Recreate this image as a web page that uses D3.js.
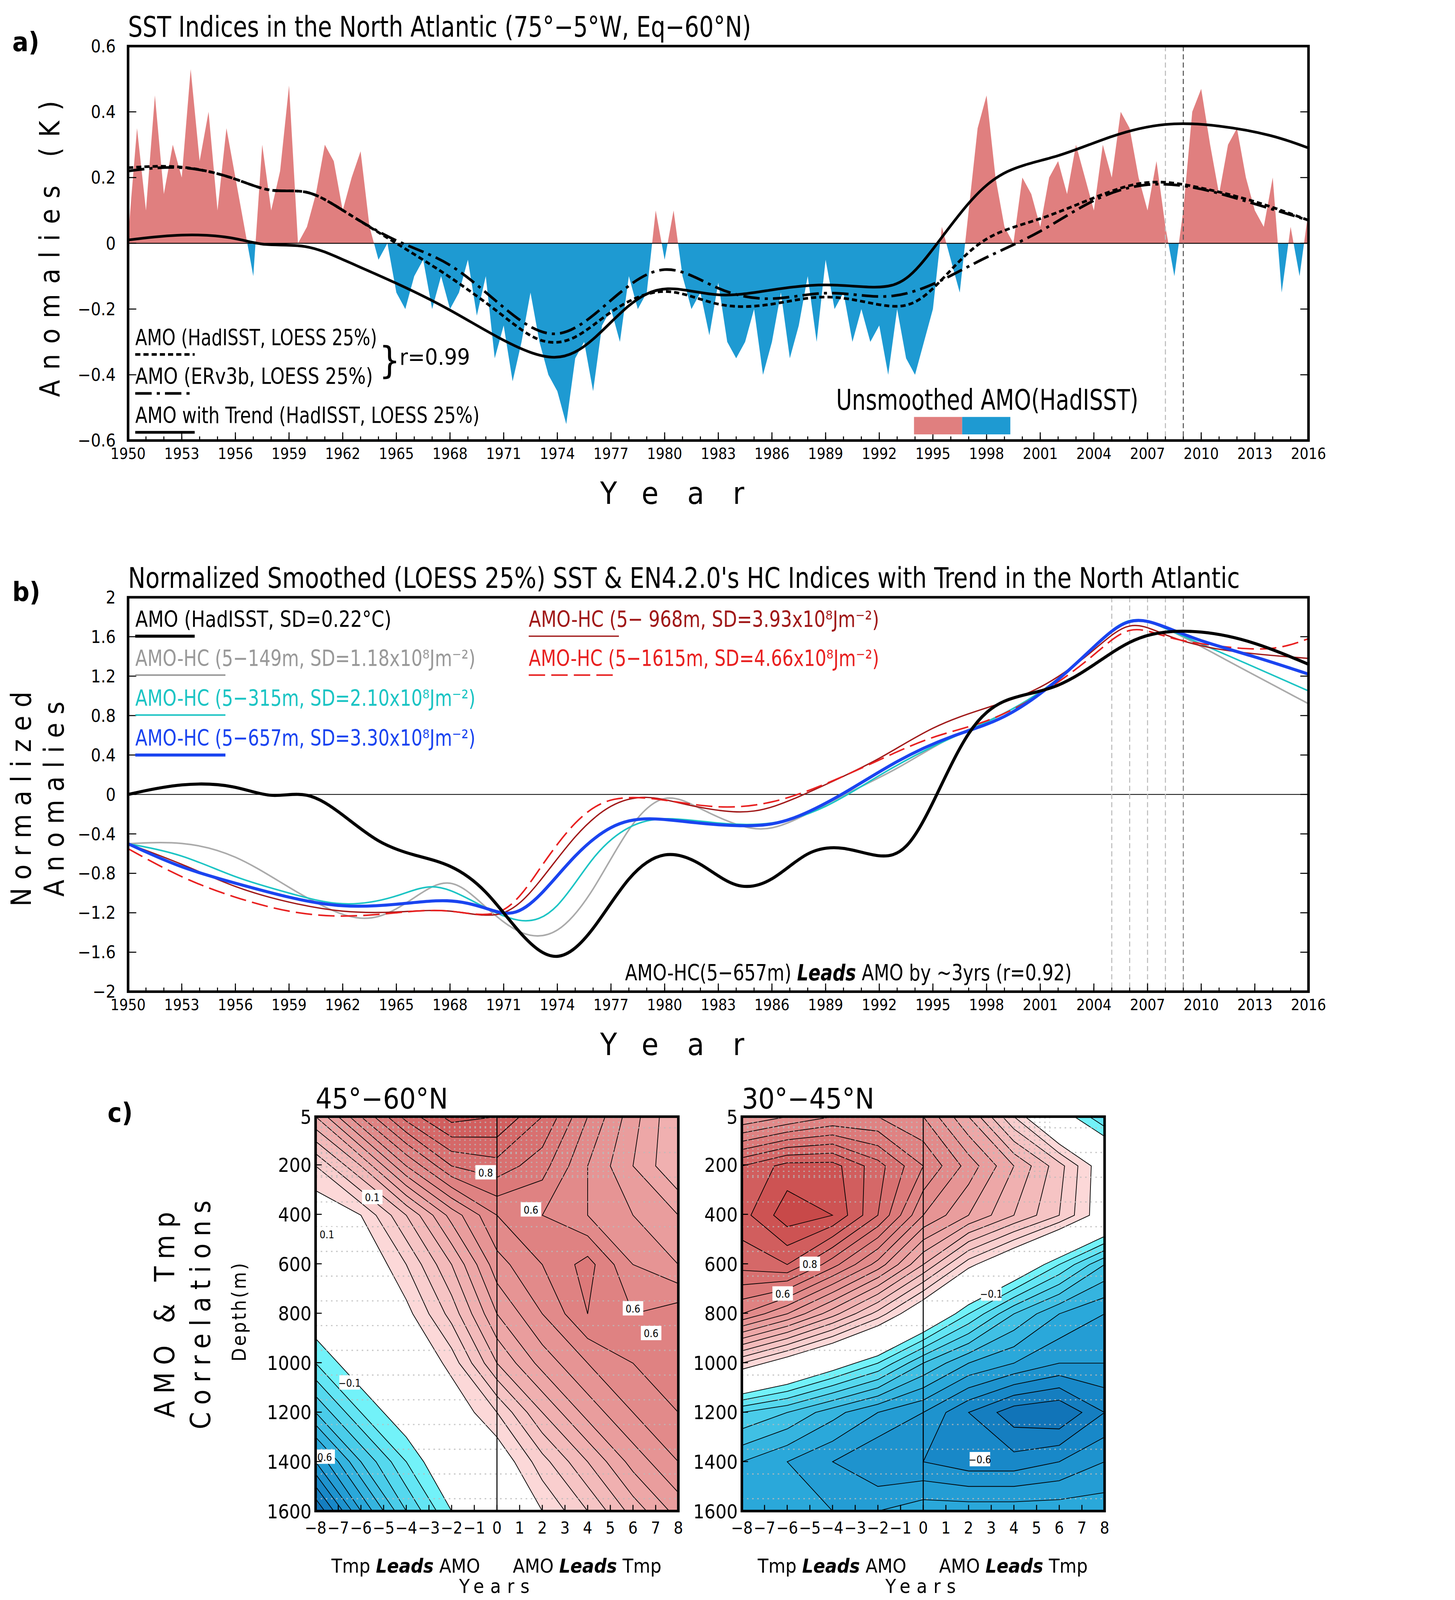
<!DOCTYPE html>
<html><head><meta charset="utf-8">
<script src="https://cdn.jsdelivr.net/npm/d3@7"></script>
<style>html,body{margin:0;padding:0;background:#fff;overflow:hidden}svg{display:block;width:100vw;height:100vh}text{font-family:"DejaVu Sans Condensed","DejaVu Sans",sans-serif;font-stretch:condensed}</style>
</head><body><div id="chart"></div>
<script>
// ---- panel a: unsmoothed AMO (half-year steps) ----
const rawYears = d3.range(1950, 2016.01, 0.5);
const rawAMO = [0.02,0.35,0.1,0.45,0.15,0.3,0.2,0.53,0.25,0.4,0.1,0.35,0.2,0.05,-0.1,0.3,0.1,0.22,0.48,0.0,0.05,0.15,0.3,0.25,0.1,0.2,0.28,0.05,-0.05,0.0,
 -0.15,-0.2,-0.1,-0.05,-0.2,-0.1,-0.2,-0.15,-0.05,-0.22,-0.1,-0.35,-0.25,-0.42,-0.3,-0.15,-0.3,-0.4,-0.45,-0.55,-0.35,-0.3,-0.45,-0.25,-0.2,-0.3,-0.1,-0.2,-0.15,0.1,
 -0.05,0.1,-0.1,-0.2,-0.15,-0.28,-0.12,-0.3,-0.35,-0.3,-0.2,-0.4,-0.3,-0.15,-0.35,-0.25,-0.1,-0.3,-0.05,-0.2,-0.15,-0.3,-0.2,-0.3,-0.25,-0.4,-0.2,-0.35,-0.4,-0.3,
 -0.2,0.05,-0.05,-0.15,0.1,0.35,0.45,0.2,0.05,0.0,0.2,0.15,0.05,0.2,0.25,0.15,0.3,0.2,0.1,0.3,0.2,0.4,0.35,0.2,0.1,0.25,0.05,-0.1,0.1,0.4,0.47,0.3,0.15,0.3,0.35,0.2,0.1,0.05,0.2,-0.15,0.05,-0.1,0.1];

const trendYears = [1950,1953,1956,1957.5,1960,1962,1965,1968,1971,1974,1976,1978,1980,1983,1986,1989,1992,1993.5,1995,1997,1999,2002,2005,2008,2011,2014,2016];
const trendAMO =   [0.01,0.03,0.02,-0.01,0.0,-0.05,-0.12,-0.2,-0.3,-0.37,-0.3,-0.18,-0.12,-0.17,-0.14,-0.12,-0.14,-0.12,-0.02,0.13,0.23,0.26,0.33,0.37,0.36,0.33,0.29];
const hadYears = [1950,1953,1956,1958,1960,1962,1965,1968,1971,1973,1975,1977,1980,1983,1986,1989,1992,1994,1996,1998,2001,2004,2007,2010,2013,2016];
const hadAMO =   [0.23,0.24,0.2,0.15,0.17,0.1,0.0,-0.1,-0.22,-0.31,-0.3,-0.2,-0.12,-0.2,-0.19,-0.15,-0.19,-0.2,-0.08,0.03,0.07,0.14,0.2,0.17,0.13,0.07];
const erYears = [1950,1953,1956,1958,1960,1962,1965,1968,1971,1974,1977,1980,1983,1986,1989,1992,1994,1996,1998,2001,2004,2007,2010,2013,2016];
const erAMO =   [0.22,0.24,0.2,0.15,0.17,0.1,0.0,-0.05,-0.2,-0.32,-0.17,-0.04,-0.15,-0.18,-0.14,-0.17,-0.15,-0.1,-0.04,0.03,0.14,0.19,0.17,0.12,0.07];

// ---- panel b: normalized indices ----
const bAMOyears = [1950,1953,1956,1958,1960,1962,1964,1966,1968,1970,1972,1974,1976,1978,1980,1982,1984,1986,1988,1990,1992,1993.5,1995,1997,1999,2002,2005,2007,2010,2013,2016];
const bAMO = [0.0,0.12,0.1,-0.05,0.05,-0.2,-0.5,-0.62,-0.7,-0.95,-1.45,-1.75,-1.4,-0.8,-0.55,-0.68,-0.98,-0.9,-0.55,-0.52,-0.65,-0.6,-0.1,0.7,1.0,1.05,1.45,1.65,1.67,1.55,1.32];
const hc657years = [1950,1953,1956,1959,1962,1965,1968,1970,1971.5,1973,1975,1977,1979,1982,1985,1987,1990,1993,1996,1999,2002,2004,2006,2008,2010,2013,2016];
const hc657 = [-0.5,-0.75,-0.9,-1.05,-1.15,-1.12,-1.05,-1.15,-1.25,-1.05,-0.6,-0.3,-0.22,-0.3,-0.33,-0.28,0.0,0.35,0.6,0.75,1.15,1.5,1.83,1.7,1.55,1.4,1.22];
const hc315years = [1950,1953,1956,1959,1962,1965,1967,1969,1972,1974,1976,1978,1980,1983,1986,1989,1992,1995,1999,2002,2004,2006,2008,2011,2016];
const hc315 = [-0.5,-0.6,-0.85,-1.0,-1.15,-1.05,-0.88,-1.05,-1.35,-1.2,-0.6,-0.3,-0.22,-0.3,-0.32,-0.15,0.2,0.5,0.8,1.15,1.5,1.85,1.68,1.45,1.05];
const hc149years = [1950,1953,1956,1959,1962,1964,1966,1968,1970,1972,1974,1976,1978,1980,1982,1985,1987,1990,1993,1996,1999,2002,2004,2006,2008,2011,2016];
const hc149 = [-0.5,-0.47,-0.6,-0.95,-1.25,-1.28,-1.05,-0.8,-1.15,-1.45,-1.45,-1.0,-0.3,0.05,-0.15,-0.4,-0.3,0.0,0.25,0.6,0.8,1.15,1.5,1.82,1.7,1.4,0.92];
const hc968years = [1950,1953,1956,1959,1962,1965,1968,1971,1973,1975,1977,1979,1981,1984,1986,1989,1992,1995,1998,2001,2004,2006,2008,2011,2016];
const hc968 = [-0.5,-0.7,-0.95,-1.1,-1.2,-1.2,-1.15,-1.3,-0.9,-0.4,-0.08,0.0,-0.1,-0.2,-0.15,0.1,0.35,0.7,0.88,1.05,1.45,1.8,1.6,1.45,1.38];
const hc1615years = [1950,1953,1956,1959,1962,1965,1968,1971,1973,1975,1977,1980,1983,1986,1989,1992,1995,1998,2001,2004,2006,2008,2011,2014,2016];
const hc1615 = [-0.55,-0.85,-1.05,-1.2,-1.25,-1.2,-1.15,-1.3,-0.75,-0.25,0.0,-0.05,-0.15,-0.1,0.1,0.35,0.6,0.72,1.0,1.4,1.75,1.58,1.5,1.45,1.58];

// ---- panel c: lag correlations (rows: depth, cols: lag) ----
const lags = [-8,-6,-4,-2,0,2,4,6,8];
const depths = [5,200,400,600,800,1000,1200,1400,1600];
const corrNorth = [
 [0.35,0.55,0.72,0.82,0.8,0.7,0.55,0.42,0.3],
 [0.15,0.3,0.5,0.65,0.68,0.62,0.5,0.4,0.3],
 [0.05,0.1,0.25,0.42,0.55,0.55,0.5,0.45,0.4],
 [0.0,0.03,0.15,0.3,0.48,0.55,0.62,0.5,0.45],
 [-0.05,0.0,0.08,0.22,0.4,0.5,0.6,0.55,0.58],
 [-0.15,-0.05,0.02,0.12,0.3,0.42,0.5,0.55,0.58],
 [-0.3,-0.15,-0.05,0.05,0.15,0.3,0.42,0.5,0.55],
 [-0.5,-0.3,-0.15,-0.02,0.05,0.18,0.3,0.42,0.5],
 [-0.7,-0.45,-0.25,-0.1,0.0,0.1,0.2,0.32,0.42]];
const corrSouth = [
 [0.45,0.5,0.55,0.55,0.5,0.35,0.15,-0.05,-0.2],
 [0.75,0.82,0.82,0.72,0.6,0.48,0.35,0.22,0.05],
 [0.78,0.88,0.85,0.7,0.5,0.4,0.3,0.2,0.05],
 [0.72,0.75,0.62,0.48,0.3,0.12,0.0,-0.15,-0.3],
 [0.55,0.45,0.32,0.18,0.02,-0.15,-0.3,-0.4,-0.45],
 [0.15,0.05,-0.05,-0.15,-0.3,-0.4,-0.45,-0.5,-0.5],
 [-0.25,-0.3,-0.38,-0.45,-0.5,-0.6,-0.68,-0.7,-0.6],
 [-0.4,-0.45,-0.5,-0.55,-0.55,-0.58,-0.58,-0.55,-0.5],
 [-0.4,-0.42,-0.45,-0.45,-0.42,-0.42,-0.42,-0.42,-0.42]];
const levels = [-0.75,-0.7,-0.65,-0.6,-0.55,-0.5,-0.45,-0.4,-0.35,-0.3,-0.25,-0.2,-0.15,-0.1,0.1,0.15,0.2,0.25,0.3,0.35,0.4,0.45,0.5,0.55,0.6,0.65,0.7,0.75,0.8,0.85];

const W = 1300, H = 1300 * 4474 / 3724;
const svg = d3.select("#chart").append("svg").attr("viewBox", `0 0 ${W} ${H}`).attr("preserveAspectRatio", "xMinYMin meet");

const x = d3.scaleLinear().domain([1950, 2016]).range([125, 1277]);
const curve = d3.curveBasis;
const blueRamp = d3.scaleLinear().domain([-0.1, -0.25, -0.45, -0.6, -0.8]).range(["#80ffff", "#55d8ee", "#2aa8da", "#1888c8", "#0a60a8"]);
const redRamp = d3.scaleLinear().domain([0.1, 0.3, 0.5, 0.7, 0.9]).range(["#fcd8d8", "#f0b0b0", "#e28a8a", "#d56868", "#c43e3e"]);
function bandColor(lo) { if (lo <= -0.75) return "#0a5aa0"; if (lo < -0.1) return blueRamp(lo); if (lo < 0.1) return "#fff"; return redRamp(lo); }

function timeAxis(yBottom) {
  const g = svg.append("g");
  g.selectAll("line.mt").data(d3.range(1950, 2017)).join("line")
    .attr("x1", d => x(d)).attr("x2", d => x(d)).attr("y1", yBottom).attr("y2", yBottom - 4).attr("stroke", "#000");
  g.selectAll("line.Mt").data(d3.range(1950, 2017, 3)).join("line")
    .attr("x1", d => x(d)).attr("x2", d => x(d)).attr("y1", yBottom).attr("y2", yBottom - 8).attr("stroke", "#000");
  g.selectAll("text").data(d3.range(1950, 2017, 3)).join("text")
    .attr("x", d => x(d)).attr("y", yBottom + 18).attr("text-anchor", "middle").attr("font-size", 15).text(d => d);
  svg.append("text").attr("x", 670).attr("y", yBottom + 62).attr("text-anchor", "middle")
    .attr("font-size", 30).attr("letter-spacing", 28).text("Year");
}
function yAxis(y, ticks, fmt) {
  ticks.forEach(t => {
    svg.append("line").attr("x1", 125).attr("x2", 133).attr("y1", y(t)).attr("y2", y(t)).attr("stroke", "#000");
    svg.append("line").attr("x1", 1277).attr("x2", 1269).attr("y1", y(t)).attr("y2", y(t)).attr("stroke", "#000");
    svg.append("text").attr("x", 113).attr("y", y(t) + 6).attr("text-anchor", "end").attr("font-size", 17).text(fmt(t));
  });
}
const fmtTick = t => t === 0 ? "0" : (Number.isInteger(t) ? String(t) : d3.format(".1f")(t)).replace("-", "\u2212");
function zip(a, b) { return a.map((v, i) => [v, b[i]]); }

// ================= PANEL A =================
const ya = d3.scaleLinear().domain([-0.6, 0.6]).range([430, 45]);
const defs = svg.append("defs");
defs.append("clipPath").attr("id", "pos").append("rect").attr("x", 125).attr("y", 45).attr("width", 1152).attr("height", ya(0) - 45);
defs.append("clipPath").attr("id", "neg").append("rect").attr("x", 125).attr("y", ya(0)).attr("width", 1152).attr("height", 430 - ya(0));
const raw = zip(rawYears, rawAMO);
const area = d3.area().x(d => x(d[0])).y0(ya(0)).y1(d => ya(d[1]));
svg.append("path").datum(raw).attr("d", area).attr("fill", "#e07f7f").attr("clip-path", "url(#pos)");
svg.append("path").datum(raw).attr("d", area).attr("fill", "#1e9ad2").attr("clip-path", "url(#neg)");
svg.append("line").attr("x1", 125).attr("x2", 1277).attr("y1", ya(0)).attr("y2", ya(0)).attr("stroke", "#000").attr("stroke-width", 0.8);
[[2008, "#bbb"], [2009, "#555"]].forEach(([yr, c]) =>
  svg.append("line").attr("x1", x(yr)).attr("x2", x(yr)).attr("y1", 45).attr("y2", 430).attr("stroke", c).attr("stroke-dasharray", "5,3"));
const lineA = d3.line().x(d => x(d[0])).y(d => ya(d[1])).curve(curve);
svg.append("path").datum(zip(trendYears, trendAMO)).attr("d", lineA).attr("fill", "none").attr("stroke", "#000").attr("stroke-width", 2.6);
svg.append("path").datum(zip(hadYears, hadAMO)).attr("d", lineA).attr("fill", "none").attr("stroke", "#000").attr("stroke-width", 2.6).attr("stroke-dasharray", "5,3");
svg.append("path").datum(zip(erYears, erAMO)).attr("d", lineA).attr("fill", "none").attr("stroke", "#000").attr("stroke-width", 2.6).attr("stroke-dasharray", "16,5,3,5");
svg.append("rect").attr("x", 125).attr("y", 45).attr("width", 1152).attr("height", 385).attr("fill", "none").attr("stroke", "#000").attr("stroke-width", 2.5);
yAxis(ya, d3.range(-0.6, 0.61, 0.2).map(v => +v.toFixed(1)), fmtTick);
timeAxis(430);
svg.append("text").attr("x", 125).attr("y", 36).attr("font-size", 28).attr("textLength", 608).attr("lengthAdjust", "spacingAndGlyphs").text("SST Indices in the North Atlantic (75°\u22125°W, Eq\u221260°N)");
svg.append("text").attr("x", 12).attr("y", 50).attr("font-size", 26).attr("font-weight", "bold").text("a)");
svg.append("text").attr("transform", "translate(58,238) rotate(-90)").attr("text-anchor", "middle").attr("font-size", 27).attr("letter-spacing", 10).text("Anomalies (K)");
const legA = [["AMO (HadISST, LOESS 25%)", 337, "5,3", 236], ["AMO (ERv3b,  LOESS 25%)", 375, "16,5,3,5", 232], ["AMO with Trend (HadISST, LOESS 25%)", 413, null, 336]];
legA.forEach(([t, yy, da, len]) => {
  svg.append("text").attr("x", 132).attr("y", yy).attr("font-size", 22).attr("textLength", len).attr("lengthAdjust", "spacingAndGlyphs").text(t);
  const l = svg.append("line").attr("x1", 132).attr("x2", 190).attr("y1", yy + 9).attr("y2", yy + 9).attr("stroke", "#000").attr("stroke-width", 2.6);
  if (da) l.attr("stroke-dasharray", da);
});
svg.append("text").attr("x", 370).attr("y", 364).attr("font-size", 36).attr("font-weight", "lighter").text("}");
svg.append("text").attr("x", 390).attr("y", 356).attr("font-size", 22).text("r=0.99");
svg.append("text").attr("x", 816).attr("y", 400).attr("font-size", 28).attr("textLength", 295).attr("lengthAdjust", "spacingAndGlyphs").text("Unsmoothed AMO(HadISST)");
svg.append("rect").attr("x", 892).attr("y", 407).attr("width", 47).attr("height", 17).attr("fill", "#e07f7f");
svg.append("rect").attr("x", 939).attr("y", 407).attr("width", 47).attr("height", 17).attr("fill", "#1e9ad2");

// ================= PANEL B =================
const yb = d3.scaleLinear().domain([-2, 2]).range([968, 583]);
const lineB = d3.line().x(d => x(d[0])).y(d => yb(d[1])).curve(curve);
svg.append("line").attr("x1", 125).attr("x2", 1277).attr("y1", yb(0)).attr("y2", yb(0)).attr("stroke", "#000").attr("stroke-width", 0.8);
[[2005, "#bbb"], [2006, "#bbb"], [2007, "#bbb"], [2008, "#bbb"], [2009, "#888"]].forEach(([yr, c]) =>
  svg.append("line").attr("x1", x(yr)).attr("x2", x(yr)).attr("y1", 583).attr("y2", 968).attr("stroke", c).attr("stroke-dasharray", "5,3"));
const seriesB = [
  [hc149years, hc149, "#aaaaaa", 1.5, null],
  [hc315years, hc315, "#1cc4c4", 1.5, null],
  [hc968years, hc968, "#a01818", 1.3, null],
  [hc1615years, hc1615, "#e82020", 1.5, "16,6"],
  [hc657years, hc657, "#1a44f0", 3, null],
  [bAMOyears, bAMO, "#000", 3, null]];
seriesB.forEach(([xs, vs, c, w, da]) => {
  const p = svg.append("path").datum(zip(xs, vs)).attr("d", lineB).attr("fill", "none").attr("stroke", c).attr("stroke-width", w);
  if (da) p.attr("stroke-dasharray", da);
});
svg.append("rect").attr("x", 125).attr("y", 583).attr("width", 1152).attr("height", 385).attr("fill", "none").attr("stroke", "#000").attr("stroke-width", 2.5);
yAxis(yb, d3.range(-2, 2.01, 0.4).map(v => +v.toFixed(1)), fmtTick);
timeAxis(968);
svg.append("text").attr("x", 125).attr("y", 574).attr("font-size", 28).attr("textLength", 1085).attr("lengthAdjust", "spacingAndGlyphs").text("Normalized Smoothed (LOESS 25%) SST & EN4.2.0's HC Indices with Trend in the North Atlantic");
svg.append("text").attr("x", 12).attr("y", 587).attr("font-size", 26).attr("font-weight", "bold").text("b)");
svg.append("text").attr("transform", "translate(30,776) rotate(-90)").attr("text-anchor", "middle").attr("font-size", 27).attr("letter-spacing", 8).text("Normalized");
svg.append("text").attr("transform", "translate(62,776) rotate(-90)").attr("text-anchor", "middle").attr("font-size", 27).attr("letter-spacing", 8).text("Anomalies");
const legB = [
  ["AMO (HadISST, SD=0.22°C)", 132, 612, "#000", 3, null, 58, 250],
  ["AMO-HC (5\u2212149m, SD=1.18x10⁸Jm⁻²)", 132, 650, "#999", 1.5, null, 88, 332],
  ["AMO-HC (5\u2212315m, SD=2.10x10⁸Jm⁻²)", 132, 689, "#1cc4c4", 1.5, null, 88, 332],
  ["AMO-HC (5\u2212657m, SD=3.30x10⁸Jm⁻²)", 132, 728, "#1a44f0", 3, null, 88, 332],
  ["AMO-HC (5\u2212  968m, SD=3.93x10⁸Jm⁻²)", 516, 612, "#a01818", 1.3, null, 88, 342],
  ["AMO-HC (5\u22121615m, SD=4.66x10⁸Jm⁻²)", 516, 650, "#e82020", 1.5, "16,6", 88, 342]];
legB.forEach(([t, lx, ly, c, w, da, len, tl]) => {
  svg.append("text").attr("x", lx).attr("y", ly).attr("font-size", 22).attr("fill", c).attr("textLength", tl).attr("lengthAdjust", "spacingAndGlyphs").text(t);
  const l = svg.append("line").attr("x1", lx).attr("x2", lx + len).attr("y1", ly + 9).attr("y2", ly + 9).attr("stroke", c).attr("stroke-width", w);
  if (da) l.attr("stroke-dasharray", da);
});
const note = svg.append("text").attr("x", 610).attr("y", 957).attr("font-size", 22).attr("textLength", 436).attr("lengthAdjust", "spacingAndGlyphs");
note.append("tspan").text("AMO-HC(5\u2212657m) ");
note.append("tspan").attr("font-style", "italic").attr("font-weight", "bold").text("Leads");
note.append("tspan").text(" AMO by ~3yrs (r=0.92)");

// ================= PANEL C =================
function contourPanel(x0, data, title, labels) {
  const pw = 354, y0 = 1090, ph = 385;
  const xl = d3.scaleLinear().domain([-8, 8]).range([x0, x0 + pw]);
  const yd = d3.scaleLinear().domain([5, 1600]).range([y0, y0 + ph]);
  const gx = d3.scaleLinear().domain([0.5, lags.length - 0.5]).range([xl(lags[0]), xl(lags[lags.length - 1])]);
  const gy = d3.scaleLinear().domain([0.5, depths.length - 0.5]).range([yd(depths[0]), yd(depths[depths.length - 1])]);
  const id = "cl" + x0;
  defs.append("clipPath").attr("id", id).append("rect").attr("x", x0).attr("y", y0).attr("width", pw).attr("height", ph);
  const conts = d3.contours().size([lags.length, depths.length]).thresholds(levels).smooth(true)(data.flat());
  const path = d3.geoPath(d3.geoTransform({ point(px, py) { this.stream.point(gx(px), gy(py)); } }));
  const g = svg.append("g").attr("clip-path", `url(#${id})`);
  g.append("rect").attr("x", x0).attr("y", y0).attr("width", pw).attr("height", ph).attr("fill", "#0a5aa0");
  conts.forEach(c => {
    g.append("path").attr("d", path(c)).attr("fill", bandColor(c.value)).attr("stroke", "#000").attr("stroke-width", 0.7);
  });
  // stipple of significant points
  g.selectAll("line.dot").data(d3.range(50, 1600, 100)).join("line")
    .attr("x1", x0).attr("x2", x0 + pw).attr("y1", d => yd(d)).attr("y2", d => yd(d))
    .attr("stroke", "#bbb").attr("stroke-width", 1.2).attr("stroke-dasharray", "1.5,3.5").attr("opacity", 0.8);
  g.selectAll("line.dot2").data(d3.range(10, 260, 18)).join("line")
    .attr("x1", x0).attr("x2", x0 + pw * 0.85).attr("y1", d => yd(d)).attr("y2", d => yd(d))
    .attr("stroke", "#bbb").attr("stroke-width", 1.2).attr("stroke-dasharray", "1.5,3.5").attr("opacity", 0.8);
  labels.forEach(([t, lg, dp]) => {
    const lx = xl(lg), ly = yd(dp);
    svg.append("rect").attr("x", lx - 10).attr("y", ly - 7).attr("width", 20).attr("height", 14).attr("fill", "#fff");
    svg.append("text").attr("x", lx).attr("y", ly + 4).attr("text-anchor", "middle").attr("font-size", 10).text(t);
  });
  svg.append("line").attr("x1", xl(0)).attr("x2", xl(0)).attr("y1", y0).attr("y2", y0 + ph).attr("stroke", "#000");
  svg.append("rect").attr("x", x0).attr("y", y0).attr("width", pw).attr("height", ph).attr("fill", "none").attr("stroke", "#000").attr("stroke-width", 2.5);
  depths.forEach(d => {
    svg.append("line").attr("x1", x0).attr("x2", x0 + 6).attr("y1", yd(d)).attr("y2", yd(d)).attr("stroke", "#000");
    svg.append("text").attr("x", x0 - 4).attr("y", yd(d) + 7).attr("text-anchor", "end").attr("font-size", 19).text(d);
  });
  d3.range(-8, 9).forEach(l => {
    svg.append("line").attr("x1", xl(l)).attr("x2", xl(l)).attr("y1", y0 + ph).attr("y2", y0 + ph - 6).attr("stroke", "#000");
    svg.append("text").attr("x", xl(l)).attr("y", y0 + ph + 22).attr("text-anchor", "middle").attr("font-size", 16).text(String(l).replace("-", "\u2212"));
  });
  svg.append("text").attr("x", x0).attr("y", y0 - 8).attr("font-size", 28).text(title);
  const t1 = svg.append("text").attr("x", x0 + 88).attr("y", y0 + ph + 60).attr("text-anchor", "middle").attr("font-size", 19);
  t1.append("tspan").text("Tmp "); t1.append("tspan").attr("font-style", "italic").attr("font-weight", "bold").text("Leads"); t1.append("tspan").text(" AMO");
  const t2 = svg.append("text").attr("x", x0 + 265).attr("y", y0 + ph + 60).attr("text-anchor", "middle").attr("font-size", 19);
  t2.append("tspan").text("AMO "); t2.append("tspan").attr("font-style", "italic").attr("font-weight", "bold").text("Leads"); t2.append("tspan").text(" Tmp");
  svg.append("text").attr("x", x0 + 140).attr("y", y0 + ph + 80).attr("font-size", 19).attr("letter-spacing", 6).text("Years");
}
contourPanel(308, corrNorth, "45°\u221260°N", [["0.8", -0.5, 230], ["0.6", 1.5, 380], ["0.6", 6, 780], ["0.6", 6.8, 880], ["0.1", -5.5, 330], ["0.1", -7.5, 480], ["\u22120.1", -6.5, 1080], ["0.6", -7.6, 1380]]);
contourPanel(724, corrSouth, "30°\u221245°N", [["0.8", -5, 600], ["0.6", -6.2, 720], ["\u22120.1", 3, 720], ["\u22120.6", 2.5, 1390]]);
svg.append("text").attr("x", 105).attr("y", 1095).attr("font-size", 26).attr("font-weight", "bold").text("c)");
svg.append("text").attr("transform", "translate(170,1280) rotate(-90)").attr("text-anchor", "middle").attr("font-size", 27).attr("letter-spacing", 7).text("AMO & Tmp");
svg.append("text").attr("transform", "translate(205,1280) rotate(-90)").attr("text-anchor", "middle").attr("font-size", 27).attr("letter-spacing", 7).text("Correlations");
svg.append("text").attr("transform", "translate(240,1280) rotate(-90)").attr("text-anchor", "middle").attr("font-size", 19).attr("letter-spacing", 2).text("Depth(m)");
</script></body></html>
